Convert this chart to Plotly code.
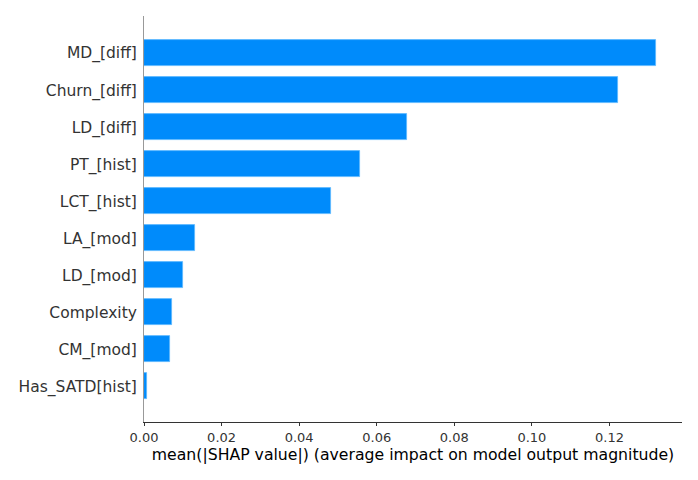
import plotly.graph_objects as go

features = ["MD_[diff]", "Churn_[diff]", "LD_[diff]", "PT_[hist]", "LCT_[hist]",
            "LA_[mod]", "LD_[mod]", "Complexity", "CM_[mod]", "Has_SATD[hist]"]
values = [0.1321, 0.1223, 0.0677, 0.0558, 0.0481, 0.0132, 0.0100, 0.0072, 0.0066, 0.0007]
x_ticks = [0.00, 0.02, 0.04, 0.06, 0.08, 0.10, 0.12]
x_ticktext = ["0.00", "0.02", "0.04", "0.06", "0.08", "0.10", "0.12"]

n = len(features)
ypos = [n - 1 - i for i in range(n)]

fig = go.Figure(go.Bar(
    x=values, y=ypos, orientation="h", width=0.7,
    marker=dict(color="#008bfb", line=dict(color="#5cb8ff", width=0.8)),
))

fig.update_layout(
    width=698, height=480,
    margin=dict(l=136, r=24, t=8, b=66, autoexpand=False),
    plot_bgcolor="white", paper_bgcolor="white",
    font=dict(family="DejaVu Sans", color="#333333"),
    showlegend=False,
    bargap=0,
)
fig.update_xaxes(
    range=[0, 0.1387], tickvals=x_ticks, ticktext=x_ticktext,
    showgrid=False, zeroline=False, automargin=False,
    showline=True, linecolor="#333333", linewidth=1,
    ticks="outside", ticklen=3, tickcolor="#333333", tickwidth=1,
    tickfont=dict(size=13, color="#333333"),
    title=dict(text="mean(|SHAP value|) (average impact on model output magnitude)",
               font=dict(size=15.7, color="#000000"), standoff=5),
)
fig.update_yaxes(
    range=[-0.96, 10.0], tickvals=ypos, ticktext=features,
    showgrid=False, zeroline=False, automargin=False,
    showline=True, linecolor="#999999", linewidth=1,
    ticks="", ticklabelstandoff=3,
    tickfont=dict(size=15.5, color="#333333"),
)

fig.write_html("out.html")
